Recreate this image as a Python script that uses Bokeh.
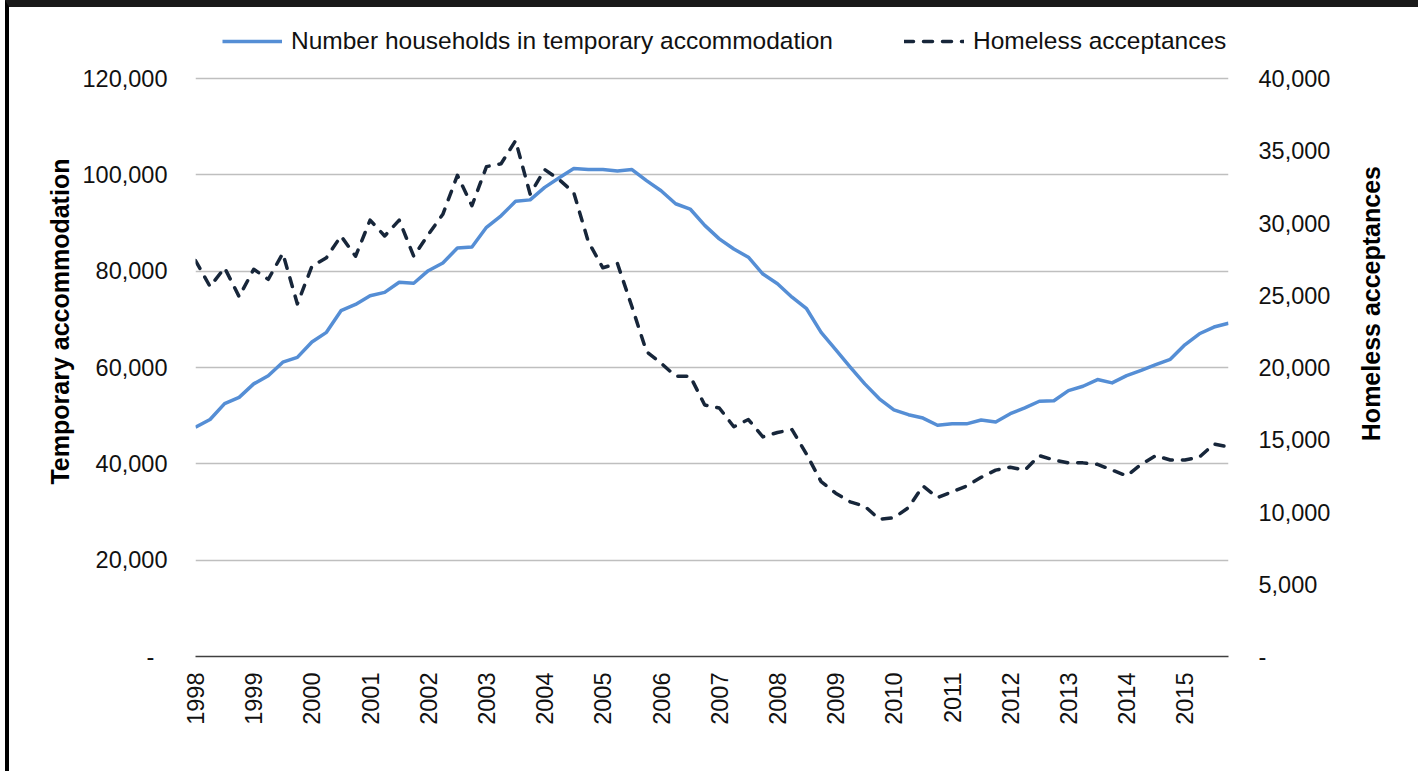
import math
from bokeh.plotting import figure
from bokeh.models import (Range1d, LinearAxis, FixedTicker, Legend, LegendItem,
                          ColumnDataSource)
from bokeh.embed import file_html
from bokeh.resources import INLINE

# ---- data (quarterly, 1998 Q1 .. 2015 Q4) ----
years = [str(y) for y in range(1998, 2016)]

temporary_accommodation = [
    47600, 49200, 52500, 53800, 56600, 58300, 61100, 62100, 65300, 67300,
    71800, 73100, 74900, 75600, 77700, 77500, 80100, 81700, 84800, 85000,
    89100, 91500, 94500, 94800, 97400, 99400, 101300, 101100, 101100, 100800,
    101100, 98800, 96700, 94000, 92900, 89500, 86700, 84600, 82900, 79400,
    77400, 74600, 72200, 67300, 63700, 60100, 56600, 53500, 51200, 50200,
    49500, 48000, 48300, 48300, 49100, 48700, 50400, 51600, 53000, 53100,
    55200, 56100, 57500, 56800, 58300, 59400, 60600, 61700, 64700, 67000,
    68400, 69200,
]

homeless_acceptances = [
    27400, 25600, 26900, 24900, 26800, 26100, 27900, 24400, 27000, 27600,
    29100, 27700, 30200, 29100, 30200, 27700, 29200, 30600, 33300, 31200,
    33900, 34100, 35700, 32000, 33700, 33000, 32100, 28700, 26900, 27200,
    24200, 21100, 20300, 19400, 19400, 17400, 17200, 15900, 16400, 15200,
    15500, 15700, 14000, 12100, 11300, 10700, 10400, 9500, 9600, 10300,
    11800, 11000, 11400, 11800, 12400, 12900, 13100, 12900, 13900, 13600,
    13400, 13400, 13300, 12900, 12500, 13300, 13900, 13600, 13600, 13800,
    14700, 14500,
]

left_ticks = [0, 20000, 40000, 60000, 80000, 100000, 120000]
left_tick_labels = ["-\u00a0\u00a0", "20,000", "40,000", "60,000", "80,000",
                    "100,000", "120,000"]
right_ticks = [0, 5000, 10000, 15000, 20000, 25000, 30000, 35000, 40000]
right_tick_labels = ["-", "5,000", "10,000", "15,000", "20,000", "25,000",
                     "30,000", "35,000", "40,000"]

series_names = ["Number households in temporary accommodation", "Homeless acceptances"]
axis_titles = ["Temporary accommodation", "Homeless acceptances"]

LEFT_MAX = 120000
RIGHT_MAX = 40000

# ---- layout geometry (pixels) ----
CANVAS_W, CANVAS_H = 1413, 771       # plus 9px left / 7px top CSS border+margin
PLOT_H = 578                          # pixel height of 0..LEFT_MAX
TOP_PAD = 71                          # frame space above LEFT_MAX (legend lives here)
scale_ext = (PLOT_H + TOP_PAD) / PLOT_H

# ---- build ----
n = len(temporary_accommodation)
x = list(range(n))
src = ColumnDataSource(dict(x=x, ta=temporary_accommodation, ha=homeless_acceptances))

FONT = "Liberation Sans"
TXT = "#111111"
TICK_FS = "23.5px"

p = figure(width=CANVAS_W, height=CANVAS_H, output_backend="svg", toolbar_location=None,
           x_range=Range1d(0, n - 1), y_range=Range1d(0, LEFT_MAX * scale_ext),
           min_border_left=186, min_border_right=194,
           min_border_top=0, min_border_bottom=122)
p.styles = {"border-left": "4px solid #000000", "border-top": "7px solid #1a1a1a",
            "margin-left": "5px"}
p.extra_y_ranges = {"right": Range1d(0, RIGHT_MAX * scale_ext)}
p.outline_line_color = None
p.background_fill_color = "white"
p.border_fill_color = "white"

r1 = p.line("x", "ta", source=src, line_color="#558ED5", line_width=3.5,
            line_join="round")
r2 = p.line("x", "ha", source=src, y_range_name="right", line_color="#17263A",
            line_width=3.5, line_dash="9 10", line_cap="round", line_join="round")

# x axis (years at first quarter)
year_ticks = [i * 4 for i in range(len(years))]
xa = p.xaxis[0]
xa.ticker = FixedTicker(ticks=year_ticks)
xa.major_label_overrides = {t: lab for t, lab in zip(year_ticks, years)}
xa.major_label_orientation = math.pi / 2
xa.major_tick_out = 0
xa.major_tick_in = 0
xa.major_label_standoff = 16
xa.major_label_text_font = FONT
xa.major_label_text_font_size = TICK_FS
xa.major_label_text_color = TXT
xa.axis_line_color = "#404040"
xa.axis_line_width = 1.5
xa.major_tick_line_color = None
xa.minor_tick_line_color = None

# left axis
ya = p.yaxis[0]
ya.ticker = FixedTicker(ticks=left_ticks)
ya.major_label_overrides = {t: lab for t, lab in zip(left_ticks, left_tick_labels)}
ya.axis_line_color = None
ya.major_tick_line_color = None
ya.minor_tick_line_color = None
ya.major_tick_out = 0
ya.major_tick_in = 0
ya.major_label_standoff = 28
ya.major_label_text_font = FONT
ya.major_label_text_font_size = TICK_FS
ya.major_label_text_color = TXT
ya.axis_label = "\u00a0" * 3 + axis_titles[0]
ya.axis_label_text_font = FONT
ya.axis_label_text_font_size = "25px"
ya.axis_label_text_font_style = "bold"
ya.axis_label_text_color = "#000000"
ya.axis_label_standoff = 6

# right axis
ra = LinearAxis(y_range_name="right", ticker=FixedTicker(ticks=right_ticks))
ra.major_label_overrides = {t: lab for t, lab in zip(right_ticks, right_tick_labels)}
ra.axis_line_color = None
ra.major_tick_line_color = None
ra.minor_tick_line_color = None
ra.major_tick_out = 0
ra.major_tick_in = 0
ra.major_label_standoff = 30
ra.major_label_text_font = FONT
ra.major_label_text_font_size = TICK_FS
ra.major_label_text_color = TXT
# reads bottom-to-top, starting from the bottom of the axis; leading no-break
# spaces lift the visible words to where the reference shows them
ra.axis_label = "\u00a0" * 31 + axis_titles[1]
ra.axis_label_orientation = math.pi / 2
ra.axis_label_align = "start"
ra.axis_label_text_font = FONT
ra.axis_label_text_font_size = "25px"
ra.axis_label_text_font_style = "bold"
ra.axis_label_text_color = "#000000"
ra.axis_label_standoff = 38
p.add_layout(ra, "right")

# grid
p.xgrid.visible = False
p.ygrid.ticker = FixedTicker(ticks=left_ticks[1:])
p.ygrid.grid_line_color = "#BFBFBF"
p.ygrid.grid_line_width = 1.5

# legend (inside the frame's top strip, screen px from the frame's bottom-left)
legend = Legend(items=[LegendItem(label=series_names[0], renderers=[r1]),
                       LegendItem(label=series_names[1], renderers=[r2])],
                orientation="horizontal", location=(27, 601),
                glyph_width=60, glyph_height=24, label_height=24,
                label_standoff=9, spacing=71,
                padding=0, margin=0, border_line_color=None,
                background_fill_alpha=0)
legend.label_text_font = FONT
legend.label_text_font_size = "24.5px"
legend.label_text_color = TXT
p.add_layout(legend)

open("out.html", "w").write(file_html(p, INLINE))
